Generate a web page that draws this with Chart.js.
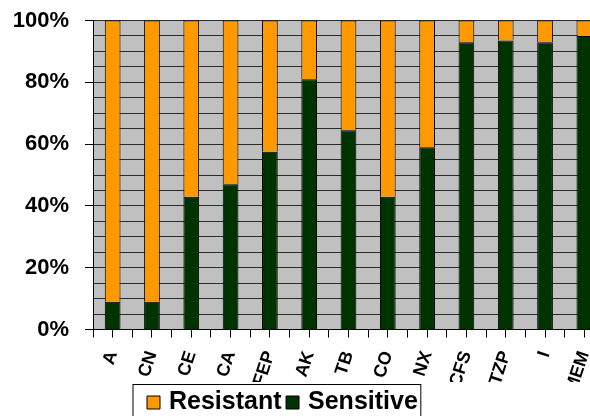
<!DOCTYPE html>
<html><head><meta charset="utf-8">
<script src="https://cdn.jsdelivr.net/npm/chart.js@4/dist/chart.umd.min.js"></script>
<style>
html,body{margin:0;padding:0;overflow:hidden;background:#fff;width:590px;height:416px}
#wrap{position:relative;width:606px;height:425px}
</style></head>
<body><div id="wrap"><canvas id="c" width="606" height="425"></canvas></div>
<script>
const categories = ['A','CN','CE','CA','FEP','AK','TB','CO','NX','CFS','TZP','I','MEM'];
const sensitive = [9, 9, 43, 47, 57.5, 81, 64.5, 43, 59, 93, 93.5, 93, 95];
const resistant = [91, 91, 57, 53, 42.5, 19, 35.5, 57, 41, 7, 6.5, 7, 5];
const seriesNames = ['Sensitive', 'Resistant'];
const yLabelEvery = 20;

const FONT = "'Liberation Sans', Arial, sans-serif";
const LEGEND_LEFT = 142.5;

const plotBg = {
  id: 'plotBg',
  beforeDraw(chart) {
    const {ctx, chartArea: a} = chart;
    ctx.save();
    ctx.fillStyle = '#C0C0C0';
    ctx.fillRect(a.left, a.top, a.right - a.left, a.bottom - a.top);
    ctx.restore();
  }
};

const legendFrame = {
  id: 'legendFrame',
  afterLayout(chart) {
    const lg = chart.legend;
    const w = lg.right - lg.left;
    lg.left = LEGEND_LEFT;
    lg.right = LEGEND_LEFT + w;
  },
  afterDraw(chart) {
    const lg = chart.legend;
    const ctx = chart.ctx;
    const x = lg.left - 9.5, y = lg.top + 2.5;
    const w = lg.lineWidths[0] + 12.5, h = lg.height + 20;
    ctx.save();
    ctx.fillStyle = '#fff';
    ctx.fillRect(x, y, w, h);
    ctx.strokeStyle = '#000';
    ctx.lineWidth = 1;
    ctx.strokeRect(x, y, w, h);
    ctx.restore();
    lg.draw();
  }
};

const toPoints = arr => arr.map((v, i) => ({x: i, y: v}));

new Chart(document.getElementById('c'), {
  type: 'bar',
  data: {
    datasets: [
      { label: seriesNames[0], data: toPoints(sensitive), backgroundColor: '#003300', borderColor: '#000', borderWidth: 1, barPercentage: 0.8, categoryPercentage: 1 },
      { label: seriesNames[1], data: toPoints(resistant), backgroundColor: '#FF9900', borderColor: '#000', borderWidth: 1, barPercentage: 0.8, categoryPercentage: 1 }
    ]
  },
  options: {
    responsive: false,
    animation: false,
    devicePixelRatio: 1,
    layout: { padding: { top: 20.5, left: 0, right: 2, bottom: 0 } },
    plugins: {
      tooltip: { enabled: false },
      legend: {
        position: 'bottom',
        align: 'start',
        reverse: true,
        labels: {
          usePointStyle: true,
          pointStyle: 'rect',
          boxWidth: 6,
          boxHeight: 13,
          padding: 8,
          color: '#000',
          font: { family: FONT, size: 25, weight: 'bold' }
        }
      }
    },
    scales: {
      x: {
        type: 'linear',
        stacked: true,
        offset: false,
        min: -0.5,
        max: categories.length - 0.5,
        z: -1,
        grid: { offset: false, drawOnChartArea: false, tickLength: 8, tickColor: '#000', lineWidth: 1 },
        border: { color: '#000', width: 1 },
        ticks: {
          stepSize: 0.5,
          autoSkip: false,
          maxRotation: 72,
          minRotation: 72,
          padding: 11,
          color: '#000',
          font: { family: FONT, size: 18, weight: 'bold' },
          callback: v => Number.isInteger(v) ? categories[v] : ''
        },
        afterFit(scale) { scale.height = 52.5; scale.paddingLeft = 0; scale.paddingRight = 0; }
      },
      y: {
        stacked: true,
        min: 0,
        max: 100,
        grid: {
          color: '#2b2b2b',
          lineWidth: 1,
          tickLength: 8,
          tickColor: ctx => (ctx.tick && ctx.tick.value % yLabelEvery === 0) ? '#000' : 'rgba(0,0,0,0)'
        },
        border: { color: '#000', width: 1 },
        ticks: {
          stepSize: 5,
          autoSkip: false,
          padding: 16,
          color: '#000',
          font: { family: FONT, size: 22, weight: 'bold' },
          callback: v => v % yLabelEvery === 0 ? v + '%' : ''
        },
        afterFit(scale) { scale.width = 93; scale.paddingTop = 0; scale.paddingBottom = 0; }
      }
    }
  },
  plugins: [plotBg, legendFrame]
});
</script>
</body></html>
